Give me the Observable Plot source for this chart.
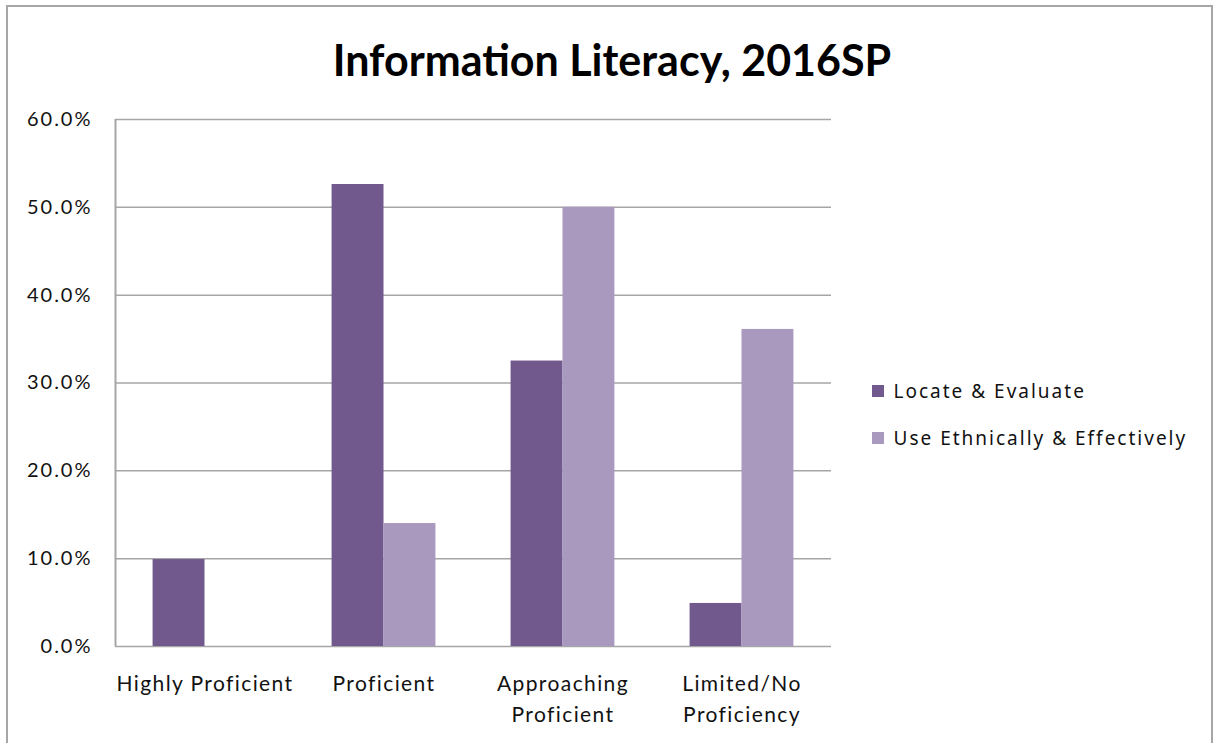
<!DOCTYPE html>
<html>
<head>
<meta charset="utf-8">
<script src="https://cdn.jsdelivr.net/npm/d3@7"></script>
<script src="https://cdn.jsdelivr.net/npm/@observablehq/plot@0.6"></script>
<style>
  html, body { margin: 0; padding: 0; background: #fff; }
  body { width: 1214px; height: 743px; position: relative; overflow: hidden; font-family: Lato, "Open Sans", sans-serif; }
  #frame { position: absolute; left: 6px; top: 5px; width: 1207px; height: 740px; border-top: 2px solid #a6a6a6; border-left: 2px solid #a6a6a6; border-right: 2px solid #a6a6a6; box-sizing: border-box; }
  #title { position: absolute; left: 5px; top: 38px; width: 1214px; text-align: center; font-family: Lato, sans-serif; font-weight: bold; font-size: 43px; line-height: 1; color: #000; }
  #chart { position: absolute; left: 0; top: 100px; }
  #legend { position: absolute; left: 872px; top: 378px; }
  .lg-swatch { font-size: 19px; letter-spacing: 2px; color: #111; margin-bottom: 20px !important; }
  g[aria-label="y-axis tick label"] text { letter-spacing: 2px; }
  g[aria-label="x-axis tick label"] text { letter-spacing: 1.4px; }
</style>
</head>
<body>
<div id="frame"></div>
<div id="title">Information Literacy, 2016SP</div>
<div id="chart"></div>
<div id="legend"></div>
<script>
const categories = ["Highly Proficient", "Proficient", "Approaching Proficient", "Limited/No Proficiency"];
const tickLabels = ["Highly Proficient", "Proficient", "Approaching\nProficient", "Limited/No\nProficiency"];
const seriesNames = ["Locate & Evaluate", "Use Ethnically & Effectively"];
const locateValues = [0.099, 0.526, 0.325, 0.049];
const useValues = [0.0, 0.140, 0.500, 0.361];
const yTicks = [0, 0.1, 0.2, 0.3, 0.4, 0.5, 0.6];
const seriesColors = ["#71588d", "#a999be"];

const BAR = 0.29; // bar width in category units
const rows = categories.flatMap((c, i) => [
  {i, category: c, series: seriesNames[0], side: 0, value: locateValues[i]},
  {i, category: c, series: seriesNames[1], side: 1, value: useValues[i]}
]).filter(d => d.value > 0);

const gridColor = "#a6a6a6";

const chart = Plot.plot({
  width: 850,
  height: 643,
  marginLeft: 115,
  marginRight: 19,
  marginTop: 19,
  marginBottom: 97,
  style: {fontFamily: "Lato, 'Open Sans', sans-serif", fontSize: "16px", color: "#111", background: "transparent"},
  x: {domain: [-0.5, categories.length - 0.5], axis: null},
  y: {domain: [0, 0.6], axis: null},
  color: {domain: seriesNames, range: seriesColors},
  marks: [
    Plot.ruleY(yTicks, {stroke: gridColor, strokeWidth: 1.5}),
    Plot.ruleX([-0.5], {stroke: gridColor, strokeWidth: 2}),
    Plot.rect(rows, {
      x1: d => d.i + (d.side - 1) * BAR,
      x2: d => d.i + d.side * BAR,
      y1: 0,
      y2: "value",
      fill: "series"
    }),
    Plot.axisY({ticks: yTicks, tickFormat: d3.format(".1%"), tickSize: 0, tickPadding: 23, fontSize: 20, label: null}),
    Plot.axisX({ticks: categories.map((_, i) => i), tickFormat: i => tickLabels[i], tickSize: 0, tickPadding: 22, fontSize: 21, lineHeight: 1.5, label: null})
  ]
});
document.getElementById("chart").appendChild(chart);

const legend = Plot.legend({
  color: {domain: seriesNames, range: seriesColors},
  columns: 1,
  swatchSize: 12,
  className: "lg"
});
document.getElementById("legend").appendChild(legend);
</script>
</body>
</html>
